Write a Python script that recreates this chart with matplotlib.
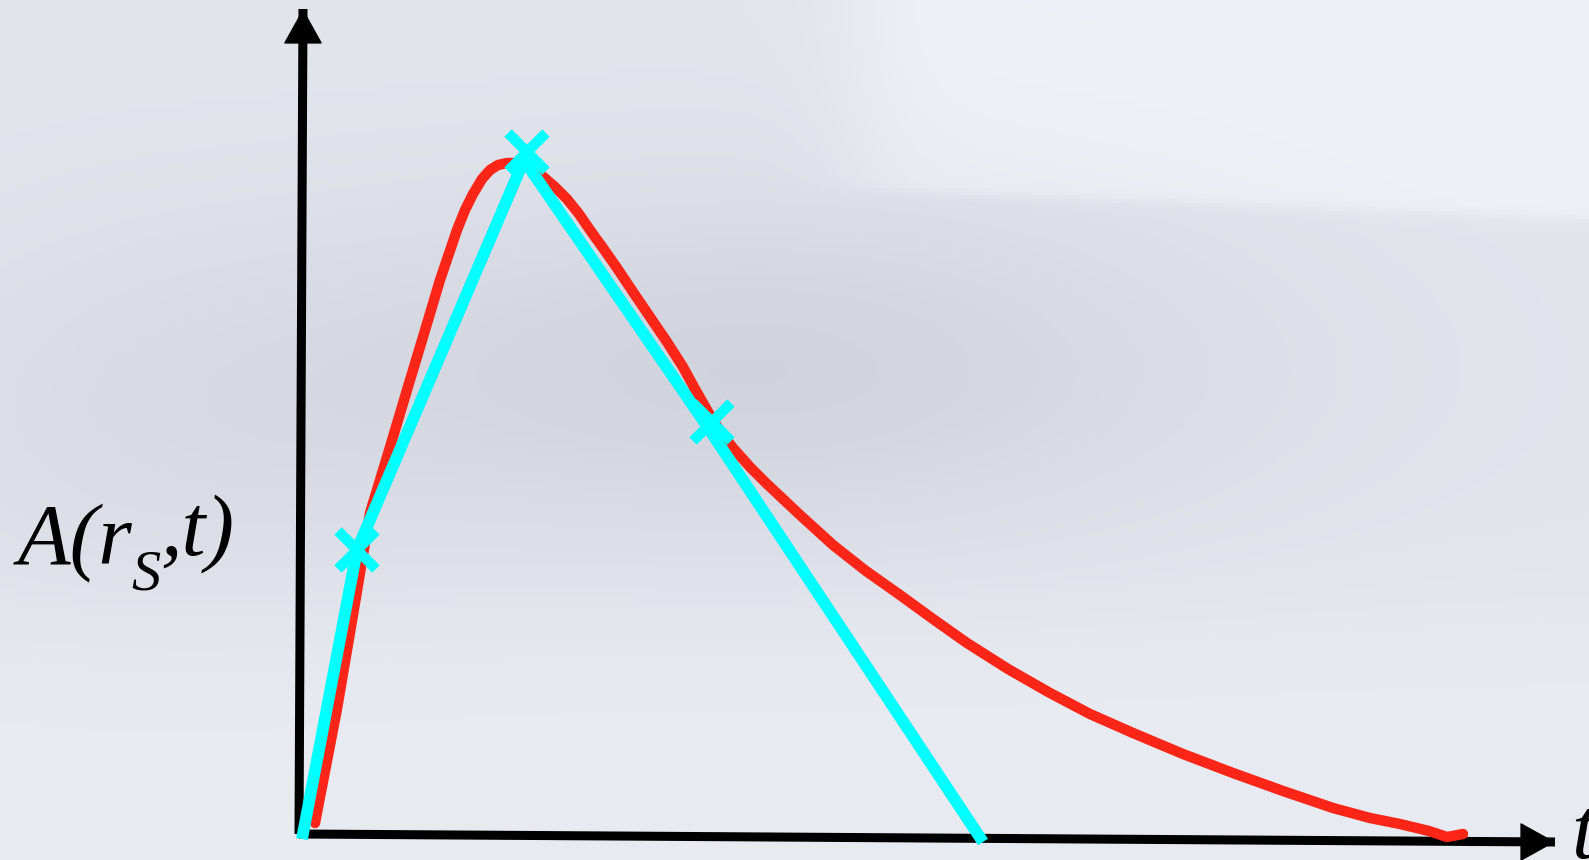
import numpy as np
import matplotlib.pyplot as plt

# pulse shape A(r_S, t) (1 unit = 100 px, origin at axes corner)
t_red = [0.16, 0.27, 0.38, 0.55, 0.71, 0.91, 1.08, 1.24, 1.41, 1.58, 1.66, 1.74, 1.83, 1.91,
         1.99, 2.08, 2.16, 2.24, 2.33, 2.41, 2.56, 2.68, 2.80, 2.91, 3.04, 3.18, 3.34, 3.51,
         3.68, 3.84, 3.96, 4.08, 4.21, 4.34, 4.51, 4.68, 5.01, 5.34, 5.67, 6.01, 6.34, 6.68,
         7.09, 7.51, 7.91, 8.34, 8.84, 9.34, 9.84, 10.34, 10.71, 11.01, 11.30, 11.48, 11.64]
A_red = [0.11, 0.68, 1.25, 2.25, 3.21, 3.87, 4.44, 4.97, 5.54, 6.04, 6.24, 6.40, 6.55, 6.64,
         6.69, 6.71, 6.71, 6.69, 6.66, 6.60, 6.47, 6.35, 6.20, 6.04, 5.86, 5.66, 5.42, 5.17,
         4.92, 4.67, 4.45, 4.24, 4.03, 3.86, 3.67, 3.50, 3.19, 2.89, 2.63, 2.39, 2.15, 1.91,
         1.65, 1.41, 1.20, 1.01, 0.80, 0.61, 0.43, 0.26, 0.16, 0.10, 0.03, -0.03, 0.00]

# piecewise linear approximation (cyan)
t_lin = [0.03, 0.58, 2.25, 4.06, 6.84]
A_lin = [-0.05, 2.84, 6.74, 4.11, -0.08]

# sample points (crosses)
t_pts = [0.58, 2.28, 4.13]
A_pts = [2.84, 6.82, 4.12]

# hand drawn axes (slightly tilted)
x_axis_t = [0.0, 12.56]
x_axis_A = [0.0, -0.08]
y_axis_t = [0.0, 0.04]
y_axis_A = [0.0, 8.25]

W, H = 1589, 860
fig = plt.figure(figsize=(W / 100, H / 100), dpi=100)
ax = fig.add_axes([0, 0, 1, 1])
x0, y0 = 2.99, 8.34
ax.set_xlim(-x0, (W / 100) - x0)
ax.set_ylim(y0 - H / 100, y0)
ax.axis('off')

# snowy paper background
xx, yy = np.meshgrid(np.linspace(0, W, 400), np.linspace(0, H, 220))
bg = np.ones(xx.shape + (3,)) * np.array([226, 229, 236]) / 255
dark = 17 * np.exp(-((xx - 760) / 480) ** 2 - ((yy - 370) / 180) ** 2)
dark += 7 * np.exp(-((xx - 150) / 300) ** 2 - ((yy - 420) / 200) ** 2)
edge = 190 + (xx - 880) * 0.04
light = 12 / (1 + np.exp((yy - edge) / 4)) * (1 / (1 + np.exp(-(xx - 860) / 30)))
light += 6 / (1 + np.exp(-(yy - 620) / 40))
shade = (light - dark)[..., None] * np.array([1.0, 1.0, 0.85]) / 255
bg = np.clip(bg + shade, 0, 1)
ax.imshow(bg, extent=[-x0, W / 100 - x0, y0 - H / 100, y0], aspect='auto', zorder=0)

# axes with arrow heads
ax.plot(x_axis_t, x_axis_A, color='black', lw=6.5, solid_capstyle='butt', zorder=2)
ax.plot(y_axis_t, y_axis_A, color='black', lw=6.5, solid_capstyle='butt', zorder=2)
ax.annotate('', xy=(x_axis_t[1], x_axis_A[1]), xytext=(x_axis_t[1] - 0.3, x_axis_A[1]),
            arrowprops=dict(arrowstyle='-|>,head_length=0.9,head_width=0.5', color='black',
                            lw=1, mutation_scale=26, shrinkA=0, shrinkB=0), zorder=2)
ax.annotate('', xy=(y_axis_t[1], y_axis_A[1]), xytext=(y_axis_t[1], y_axis_A[1] - 0.3),
            arrowprops=dict(arrowstyle='-|>,head_length=0.9,head_width=0.5', color='black',
                            lw=1, mutation_scale=26, shrinkA=0, shrinkB=0), zorder=2)

ax.plot(t_red, A_red, color='#fb2618', lw=7.5, solid_capstyle='round',
        solid_joinstyle='round', zorder=3)
ax.plot(t_lin, A_lin, color='#00ffff', lw=8.5, solid_capstyle='butt',
        solid_joinstyle='miter', zorder=4)
ax.plot(t_pts, A_pts, linestyle='none', marker='x', markersize=28, mew=7.5,
        color='#00ffff', zorder=5)

# label A(r_S,t) in Times-like italic, built from pieces so the subscript is large
font = dict(family='Liberation Serif', style='italic', color='black', zorder=6)
t1 = ax.text(-2.81, 2.71, 'A(r', fontsize=62, ha='left', va='baseline', **font)
t2 = ax.annotate('S', xy=(1, 0), xycoords=t1, xytext=(-1, -14), textcoords='offset points',
                 fontsize=42, ha='left', va='bottom', **font)
ax.annotate(',t)', xy=(1, 0), xycoords=t2, xytext=(0, 20), textcoords='offset points',
            fontsize=62, ha='left', va='bottom', **font)
ax.text(12.72, -0.24, 't', fontsize=62, ha='left', va='baseline', **font)

fig.savefig('out.png', dpi=100)
